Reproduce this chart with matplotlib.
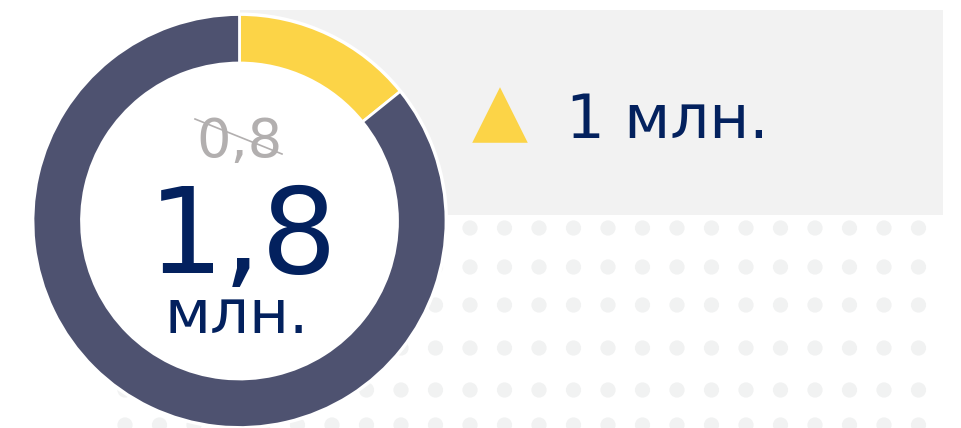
"""
Donut KPI card: 1,8 mln (was 0,8), +1 mln.
"""

import matplotlib

matplotlib.use("Agg")
import matplotlib.pyplot as plt  # noqa: E402
import numpy as np
from matplotlib.patches import Circle, Rectangle

# data
segment_labels = ["growth", "rest"]
segment_shares = [14.2, 85.8]
segment_colors = ["#FCD447", "#4E5270"]
value_now = "1,8"
value_before = "0,8"
unit = "млн."
delta_text = "1 млн."

NAVY = "#03215E"
GREY_TEXT = "#B2AFAF"
PANEL = "#F2F2F2"
DOTS = "#F1F2F2"

W, H = 961, 428


def yy(y_img: float) -> float:
    """Image row (top = 0) to data y."""
    return H - y_img


fig = plt.figure(figsize=(W / 100, H / 100), dpi=100)
ax = fig.add_axes([0, 0, 1, 1])

# light panel behind the donut and the delta
ax.add_patch(Rectangle((240, yy(215)), 703, 205, facecolor=PANEL, edgecolor="none", zorder=0))

# decorative dot pattern
cols = np.arange(470 - 34.5 * 10, 935, 34.5)
rows = [228, 267, 305, 348, 390, 425]
gx, gy = np.meshgrid(cols, rows)
ax.scatter(gx.ravel(), [yy(v) for v in gy.ravel()], s=120, marker="o",
           color=DOTS, edgecolors="none", zorder=0.5)

# donut
cx, cy, r = 239.5, yy(221), 206.5
ax.add_patch(Circle((cx, cy), r + 2, facecolor="white", edgecolor="none", zorder=1))
wedges, _ = ax.pie(
    segment_shares,
    colors=segment_colors,
    startangle=90,
    counterclock=False,
    center=(cx, cy),
    radius=r,
    wedgeprops=dict(width=48.5, edgecolor="white", linewidth=2),
    frame=True,
)
for w in wedges:
    w.set_zorder(2)

# centre labels
ax.text(240, yy(157), value_before, fontsize=39, color=GREY_TEXT,
        ha="center", va="baseline", zorder=3)
ax.plot([195, 282], [yy(119), yy(154)], color=GREY_TEXT, linewidth=1.2, zorder=3)
ax.text(243, yy(273), value_now, fontsize=86, color=NAVY,
        ha="center", va="baseline", zorder=3)
ax.text(237, yy(333), unit, fontsize=44, color=NAVY,
        ha="center", va="baseline", zorder=3)

# delta
ax.scatter([500], [yy(115)], s=1600, marker="^", color=segment_colors[0],
           edgecolors="none", zorder=3)
ax.text(566, yy(138), delta_text, fontsize=44, color=NAVY,
        ha="left", va="baseline", zorder=3)

ax.set_xlim(0, W)
ax.set_ylim(0, H)
ax.set_aspect("auto")
ax.axis("off")

fig.savefig("out.png", dpi=100)
plt.close(fig)
